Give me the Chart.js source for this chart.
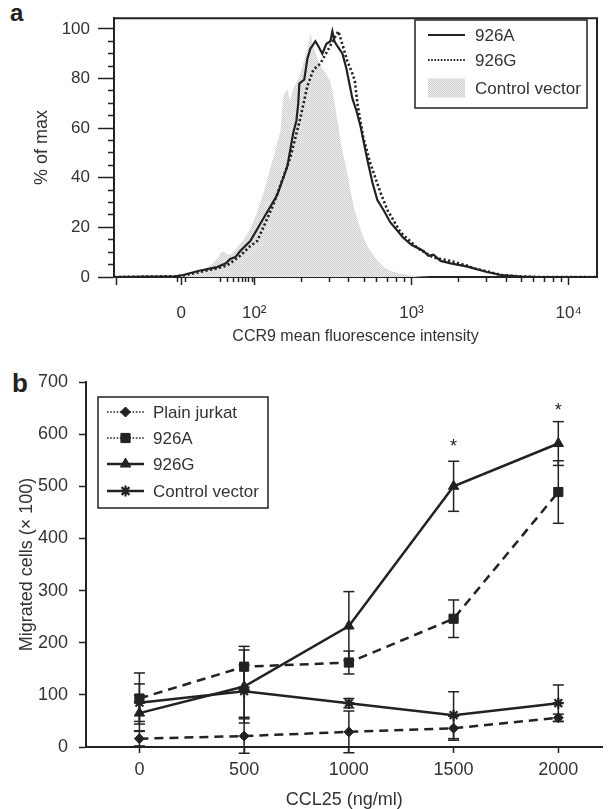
<!DOCTYPE html>
<html>
<head>
<meta charset="utf-8">
<script src="https://cdn.jsdelivr.net/npm/chart.js@4.4.1/dist/chart.umd.min.js"></script>
<style>
  html, body { margin: 0; padding: 0; background: #fff; }
  body { width: 610px; height: 809px; position: relative; overflow: hidden; font-family: "Liberation Sans", Arial, sans-serif; }
  canvas { position: absolute; left: 0; }
  #cA { top: 0; }
  #cB { top: 348px; }
  .tag { position: absolute; font-weight: bold; color: #222; line-height: 1; }
</style>
</head>
<body>
<div class="tag" style="left:10px;top:1px;font-size:24px">a</div>
<div class="tag" style="left:12px;top:370px;font-size:26px">b</div>
<canvas id="cA" width="610" height="348"></canvas>
<canvas id="cB" width="610" height="461"></canvas>
<script>
// Figure: a) CCR9 histogram overlay, b) CCL25 chemotaxis.

// ---------- panel a data (x in display decades: 10^2 -> 2, 10^3 -> 3, "0" -> 1.535) ----------
const ctrlX = [1.108, 1.497, 1.548, 1.605, 1.656, 1.707, 1.764, 1.796, 1.822, 1.847, 1.879, 1.911, 1.943, 1.975, 2.006, 2.038, 2.064, 2.083, 2.102, 2.121, 2.146, 2.166, 2.185, 2.210, 2.229, 2.248, 2.274, 2.293, 2.312, 2.338, 2.357, 2.376, 2.401, 2.420, 2.439, 2.465, 2.484, 2.503, 2.516, 2.535, 2.548, 2.567, 2.592, 2.611, 2.631, 2.656, 2.675, 2.707, 2.739, 2.777, 2.822, 2.866, 2.930, 2.994, 3.057, 3.121, 4.180];
const ctrlY = [0, 0.3, 0.5, 1, 2, 4, 7.3, 10.5, 9.5, 9, 11, 13.3, 16, 19.5, 24, 30, 35, 39, 44, 48, 54, 58.6, 73, 75.8, 71, 76, 79, 82, 86, 92, 98, 93, 88, 85, 83.5, 81, 79, 73, 68, 61, 55, 49, 42, 35, 29, 23, 19.5, 14, 10.5, 7, 4, 2.5, 1.3, 0.6, 0.2, 0, 0];

const a926X = [1.108, 1.500, 1.548, 1.650, 1.764, 1.820, 1.847, 1.880, 1.911, 1.975, 2.057, 2.146, 2.210, 2.248, 2.268, 2.280, 2.287, 2.318, 2.338, 2.357, 2.389, 2.408, 2.433, 2.459, 2.484, 2.497, 2.510, 2.529, 2.561, 2.586, 2.605, 2.624, 2.650, 2.675, 2.720, 2.752, 2.783, 2.822, 2.866, 2.949, 3.000, 3.076, 3.108, 3.140, 3.185, 3.250, 3.357, 3.480, 3.570, 3.700, 3.800, 4.180];
const a926Y = [0, 0.3, 0.8, 2.5, 4, 5.5, 7.3, 8, 10.5, 14.5, 23.5, 33, 44.5, 58, 63, 70, 78, 79.5, 88, 92, 95, 93, 90, 94, 95, 99, 95, 93, 90, 84, 78, 72, 67, 61, 47, 38, 31, 27, 22, 15.7, 13, 10.5, 8.5, 9, 6.5, 5.5, 4.2, 2, 0.8, 0.2, 0, 0];

const g926X = [1.108, 1.500, 1.548, 1.650, 1.764, 1.820, 1.847, 1.911, 1.975, 2.019, 2.121, 2.229, 2.293, 2.338, 2.376, 2.420, 2.465, 2.516, 2.535, 2.561, 2.592, 2.624, 2.640, 2.656, 2.694, 2.739, 2.803, 2.847, 2.930, 3.038, 3.140, 3.248, 3.357, 3.395, 3.480, 3.570, 3.700, 3.800, 4.180];
const g926Y = [0, 0.3, 0.6, 2, 3.5, 4.5, 5.5, 8.6, 12.5, 14.5, 29, 48, 64, 77, 83.5, 86, 91, 97, 99, 93.7, 87, 82, 79, 70, 56, 45.7, 34, 27, 18, 11.7, 7.8, 6.5, 4.5, 3.5, 2.3, 0.8, 0.2, 0, 0];

const pctTicks = [0, 5, 10, 15, 20, 25, 30, 35, 40, 45, 50, 55, 60, 65, 70, 75, 80, 85, 90, 95, 100];
const fluorMajor = [1.127, 1.535, 2, 3, 4];
const fluorLabels = ["", "0", "10²", "10³", "10⁴"];
const fluorMinor = [1.510, 1.560, 1.783, 1.828, 1.866, 1.898, 1.924, 1.943, 1.962, 1.987,
                    2.301, 2.477, 2.602, 2.699, 2.778, 2.845, 2.903, 2.954,
                    3.301, 3.477, 3.602, 3.699, 3.778, 3.845, 3.903, 3.954];

// ---------- panel b data ----------
const ccl25 = [0, 500, 1000, 1500, 2000];
const plainJurkat = [16, 21, 29, 36, 56];
const plainJurkatErr = [14, 33, 40, 23, 7];
const a926 = [93, 154, 162, 246, 489];
const a926Err = [49, 39, 22, 36, 60];
const g926 = [65, 116, 232, 500, 582];
const g926Err = [34, 70, 66, 48, 42];
const ctrlVec = [85, 107, 84, 61, 84];
const ctrlVecErr = [36, 50, 9, 45, 35];
const cellTicks = [0, 100, 200, 300, 400, 500, 600, 700];
const sigAt = [1500, 2000];
const sigY = [575, 644];

// ---------- helpers ----------
const INK = "#222", TXT = "#333";
const FONT = '"Liberation Sans", Arial, sans-serif';
Chart.defaults.font.family = FONT;
Chart.defaults.color = TXT;

const pts = (xs, ys) => xs.map((x, i) => ({ x, y: ys[i] }));
const errSegs = (xs, ys, es) => xs.flatMap((x, i) => [{ x, y: ys[i] - es[i] }, { x, y: ys[i] + es[i] }, { x, y: null }]);
const fixTicks = (vals) => (s) => { s.ticks = vals.map((v) => ({ value: v })); };

function stipple() {
  const c = document.createElement("canvas");
  c.width = 2; c.height = 2;
  const g = c.getContext("2d");
  g.fillStyle = "#f0f0f0"; g.fillRect(0, 0, 2, 2);
  g.fillStyle = "#cdcdcd"; g.fillRect(0, 0, 1, 1); g.fillRect(1, 1, 1, 1);
  return g.createPattern(c, "repeat");
}

// top + right edge of the box in panel a
const frame = {
  id: "frame",
  afterDraw(chart) {
    const { ctx, chartArea: a } = chart;
    ctx.save();
    ctx.strokeStyle = INK; ctx.lineWidth = 2;
    ctx.beginPath();
    ctx.moveTo(a.left, a.top); ctx.lineTo(a.right, a.top); ctx.lineTo(a.right, a.bottom);
    ctx.stroke();
    ctx.restore();
  },
};

// boxed legend with line sample + marker
const boxLegend = {
  id: "boxLegend",
  afterDraw(chart, args, o) {
    if (!o || !o.items) return;
    const ctx = chart.ctx;
    ctx.save();
    ctx.fillStyle = "#fff";
    ctx.fillRect(o.x, o.y, o.w, o.h);
    ctx.strokeStyle = INK; ctx.lineWidth = 1.5;
    ctx.strokeRect(o.x, o.y, o.w, o.h);
    ctx.font = o.size + "px " + FONT;
    ctx.textBaseline = "middle";
    o.items.forEach((it, i) => {
      const ds = chart.data.datasets[it.ds];
      const cy = o.rows[i];
      if (it.swatch) {
        ctx.fillStyle = ds.backgroundColor;
        ctx.fillRect(o.x0, cy - 9.5, o.x1 - o.x0, 19);
      } else {
        ctx.strokeStyle = INK; ctx.lineWidth = it.width;
        ctx.setLineDash(it.dash || []);
        ctx.beginPath(); ctx.moveTo(o.x0, cy); ctx.lineTo(o.x1, cy); ctx.stroke();
        ctx.setLineDash([]);
        if (ds.pointRadius) {
          ctx.fillStyle = INK; ctx.strokeStyle = INK; ctx.lineWidth = ds.pointBorderWidth || 1;
          Chart.helpers.drawPoint(ctx, { pointStyle: ds.pointStyle, radius: ds.pointRadius, borderWidth: ds.pointBorderWidth || 1, rotation: 0 }, (o.x0 + o.x1) / 2, cy);
        }
      }
      ctx.fillStyle = TXT;
      ctx.fillText(ds.label, o.tx, cy + 1);
    });
    ctx.restore();
  },
};

const sigStars = {
  id: "sigStars",
  afterDatasetsDraw(chart) {
    const { ctx, scales: { x, y } } = chart;
    ctx.save();
    ctx.fillStyle = INK; ctx.font = "18px " + FONT;
    ctx.textAlign = "center"; ctx.textBaseline = "middle";
    sigAt.forEach((v, i) => ctx.fillText("*", x.getPixelForValue(v), y.getPixelForValue(sigY[i])));
    ctx.restore();
  },
};

// ---------- panel a ----------
new Chart(document.getElementById("cA"), {
  type: "scatter",
  data: {
    datasets: [
      { label: "Control vector", data: pts(ctrlX, ctrlY), showLine: true, fill: "origin", backgroundColor: stipple(),
        borderColor: "rgba(0,0,0,0)", borderWidth: 0, pointRadius: 0, tension: 0, order: 3 },
      { label: "926A", data: pts(a926X, a926Y), showLine: true, borderColor: INK, borderWidth: 2.2,
        pointRadius: 0, tension: 0, order: 2 },
      { label: "926G", data: pts(g926X, g926Y), showLine: true, borderColor: INK, borderWidth: 2.6,
        borderDash: [2.2, 2.4], pointRadius: 0, tension: 0, order: 1 },
    ],
  },
  options: {
    responsive: false, animation: false, devicePixelRatio: 1, events: [],
    layout: { padding: { top: 10, right: 13, left: 0, bottom: 0 } },
    plugins: {
      legend: { display: false }, tooltip: { enabled: false },
      boxLegend: { x: 415, y: 20, w: 172, h: 88, size: 17, x0: 428, x1: 465, tx: 475, rows: [35, 60, 88],
        items: [{ ds: 1, width: 2.2 }, { ds: 2, width: 2.2, dash: [1.6, 1.6] }, { ds: 0, swatch: true }] },
    },
    scales: {
      x: {
        type: "linear", min: 1.108, max: 4.18,
        afterBuildTicks: fixTicks(fluorMajor.concat(fluorMinor)),
        afterFit: (s) => { s.height = 71; },
        border: { color: INK, width: 2 },
        grid: { drawOnChartArea: false, tickLength: 8, tickColor: INK, tickWidth: 1.5,
          tickBorderDash: (c) => (c.tick && fluorMajor.includes(c.tick.value)) ? [] : [4, 40] },
        ticks: { autoSkip: false, maxRotation: 0, padding: 18, color: TXT, font: { size: 17 },
          callback: (v) => { const i = fluorMajor.indexOf(v); return i < 0 ? "" : fluorLabels[i]; } },
        title: { display: true, text: "CCR9 mean fluorescence intensity", color: TXT,
          font: { size: 16, lineHeight: 1 }, padding: { top: 0, bottom: 3 } },
      },
      y: {
        min: 0, max: 104.3,
        afterBuildTicks: fixTicks(pctTicks),
        afterFit: (s) => { s.width = 114; },
        border: { color: INK, width: 2 },
        grid: { drawOnChartArea: false, tickLength: 16, tickColor: INK, tickWidth: 1.5,
          tickBorderDash: (c) => (c.tick && c.tick.value % 20 === 0) ? [] : [0, 10, 6, 40] },
        ticks: { autoSkip: false, padding: 8, color: TXT, font: { size: 17 },
          callback: (v) => (v % 20 === 0 ? String(v) : "") },
        title: { display: true, text: "% of max", color: TXT, font: { size: 18, lineHeight: 1 }, padding: { top: 33, bottom: 0 } },
      },
    },
  },
  plugins: [frame, boxLegend],
});

// ---------- panel b ----------
const lineDs = (label, ys, style, r, dash, bw) => ({
  label, data: pts(ccl25, ys), showLine: true, borderColor: INK, borderWidth: 2.5, borderDash: dash,
  pointStyle: style, pointRadius: r, pointBackgroundColor: INK, pointBorderColor: INK, pointBorderWidth: bw || 1,
  tension: 0, order: 1,
});
const errDs = (ys, es) => ({
  label: "", data: errSegs(ccl25, ys, es), showLine: true, spanGaps: false, borderColor: INK, borderWidth: 1.5,
  pointStyle: "line", pointRadius: 5.5, pointBorderColor: INK, pointBorderWidth: 1.5, clip: false, order: 2,
});

new Chart(document.getElementById("cB"), {
  type: "scatter",
  data: {
    datasets: [
      lineDs("Plain jurkat", plainJurkat, "rectRot", 5, [9, 6]),
      lineDs("926A", a926, "rect", 6.5, [9, 6]),
      lineDs("926G", g926, "triangle", 6, []),
      lineDs("Control vector", ctrlVec, "star", 5.5, [], 2.2),
      errDs(plainJurkat, plainJurkatErr),
      errDs(a926, a926Err),
      errDs(g926, g926Err),
      errDs(ctrlVec, ctrlVecErr),
    ],
  },
  options: {
    responsive: false, animation: false, devicePixelRatio: 1, events: [],
    layout: { padding: { top: 34, right: 3, left: 0, bottom: 0 } },
    plugins: {
      legend: { display: false }, tooltip: { enabled: false },
      boxLegend: { x: 98, y: 49, w: 170, h: 111, size: 17, x0: 107, x1: 144, tx: 153, rows: [64, 90, 116, 143],
        items: [{ ds: 0, width: 1.5, dash: [1.6, 1.6] }, { ds: 1, width: 1.5, dash: [1.6, 1.6] },
                { ds: 2, width: 2.5 }, { ds: 3, width: 2.5 }] },
    },
    scales: {
      x: {
        type: "linear", min: -255, max: 2210,
        afterBuildTicks: fixTicks(ccl25),
        afterFit: (s) => { s.height = 62; },
        border: { color: INK, width: 2 },
        grid: { drawOnChartArea: false, tickLength: 6, tickColor: INK, tickWidth: 1.5 },
        ticks: { autoSkip: false, maxRotation: 0, padding: 6, color: TXT, font: { size: 18 }, callback: (v) => String(v) },
        title: { display: true, text: "CCL25 (ng/ml)", color: TXT, font: { size: 18, lineHeight: 1 }, padding: 0 },
      },
      y: {
        min: 0, max: 700,
        afterBuildTicks: fixTicks(cellTicks),
        afterFit: (s) => { s.width = 86; },
        border: { color: INK, width: 2 },
        grid: { drawOnChartArea: false, tickLength: 7, tickColor: INK, tickWidth: 1.5 },
        ticks: { autoSkip: false, padding: 11, color: TXT, font: { size: 18 }, callback: (v) => String(v) },
        title: { display: true, text: "Migrated cells (× 100)", color: TXT, font: { size: 18, lineHeight: 1 }, padding: { top: 18, bottom: 0 } },
      },
    },
  },
  plugins: [boxLegend, sigStars],
});
</script>
</body>
</html>
